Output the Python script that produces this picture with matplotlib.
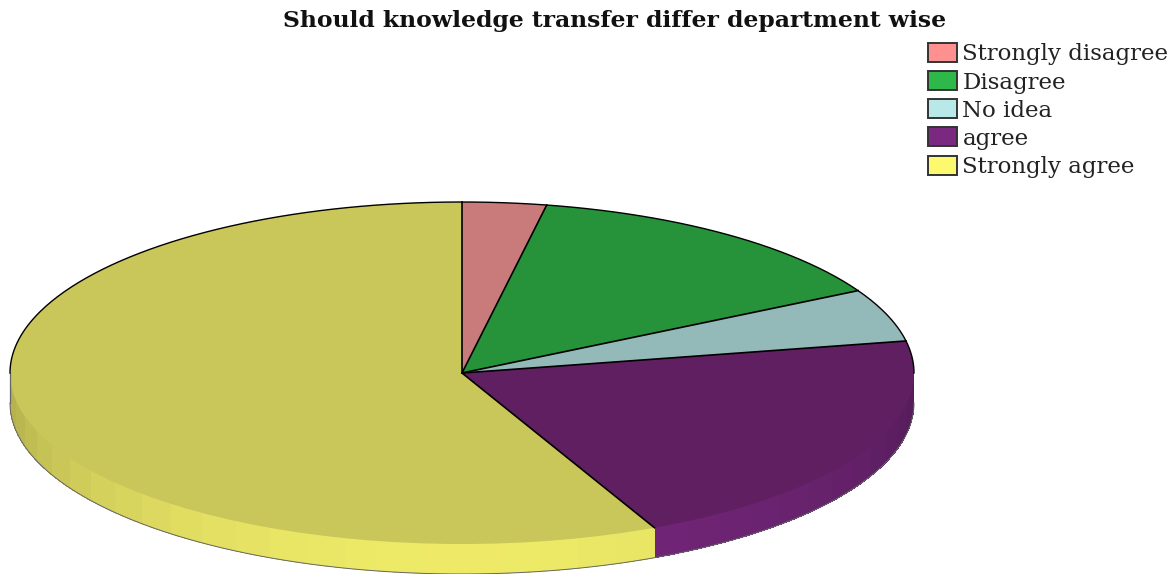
import numpy as np
import matplotlib
matplotlib.use("Agg")
import matplotlib.pyplot as plt
from matplotlib.patches import Patch
from matplotlib.colors import to_rgb

title = "Should knowledge transfer differ department wise"
categories = ["Strongly disagree", "Disagree", "No idea", "agree", "Strongly agree"]
values = [3, 14, 5, 21, 57]
top_colors = ["#c97a7a", "#26933a", "#94b9b9", "#5f1f60", "#c9c65a"]
legend_colors = ["#ff9090", "#2fb84a", "#b8e8e8", "#7a2880", "#fdf96e"]

W, H = 1176, 574
CX, CY, RX, RY, DEPTH = 462, 373, 452, 171, 30

fig = plt.figure(figsize=(W / 100, H / 100), dpi=100)
ax = fig.add_axes([0, 0, 1, 1])

# top surface: a unit pie stretched into an ellipse by the axis limits
wedges, _ = ax.pie(values, colors=top_colors, startangle=90, counterclock=False,
                   radius=1, center=(0, 0), wedgeprops=dict(linewidth=0, zorder=3))
ax.set_aspect("auto")
ax.set_xlim(-CX / RX, (W - CX) / RX)
ax.set_ylim((CY - H) / RY, CY / RY)
ax.axis("off")

depth = DEPTH / RY
edges = 90 - 360 * np.cumsum([0] + values) / np.sum(values)

# rim, drawn as shaded facets on the visible lower half
step = 5.0
for i, (a0, a1) in enumerate(zip(edges[:-1], edges[1:])):
    lo, hi = max(a1, -180), min(a0, 0)
    if lo >= hi:
        continue
    cuts = np.unique(np.r_[lo, np.arange(np.ceil(lo / step) * step, hi, step), hi])
    for s, e in zip(cuts[:-1], cuts[1:]):
        t = np.radians(np.linspace(s, e, 6))
        mid = (s + e) / 2
        f = 0.68 + 0.26 * np.cos(np.radians(mid + 90))
        col = tuple(min(1, c * f) for c in to_rgb(legend_colors[i]))
        xs = np.r_[np.cos(t), np.cos(t[::-1])]
        ys = np.r_[np.sin(t), np.sin(t[::-1]) - depth]
        ax.fill(xs, ys, facecolor=col, edgecolor="none", lw=0, antialiased=False, zorder=2)

# outer lower outline of the rim
t = np.radians(np.linspace(-180, 0, 200))
ax.plot(np.cos(t), np.sin(t) - depth, color="#66666a", lw=0.7, zorder=4)
ax.plot([-1, -1], [0, -depth], color="#66666a", lw=0.9, zorder=4)

# black outline of the upper half and the slice borders
t = np.radians(np.linspace(0, 180, 300))
ax.plot(np.cos(t), np.sin(t), color="black", lw=1.0, zorder=5)
for a in edges[:-1]:
    r = np.radians(a)
    ax.plot([0, np.cos(r)], [0, np.sin(r)], color="black", lw=1.2, zorder=5)

fig.text(615 / W, 1 - 21 / H, title, family="DejaVu Serif", fontweight="bold",
         fontsize=16.9, ha="center", va="center", color="#111111")

handles = [Patch(facecolor=c, edgecolor="#333333", linewidth=1.4) for c in legend_colors]
fig.legend(handles, categories, loc="upper left", bbox_to_anchor=(928 / W, 1 - 43 / H),
           bbox_transform=fig.transFigure, frameon=False, borderpad=0, borderaxespad=0,
           handlelength=1.25, handleheight=0.9, handletextpad=0.25, labelspacing=0.25,
           prop=dict(family="DejaVu Serif", size=16.5), labelcolor="#222222")

fig.savefig("out.png", dpi=100)
